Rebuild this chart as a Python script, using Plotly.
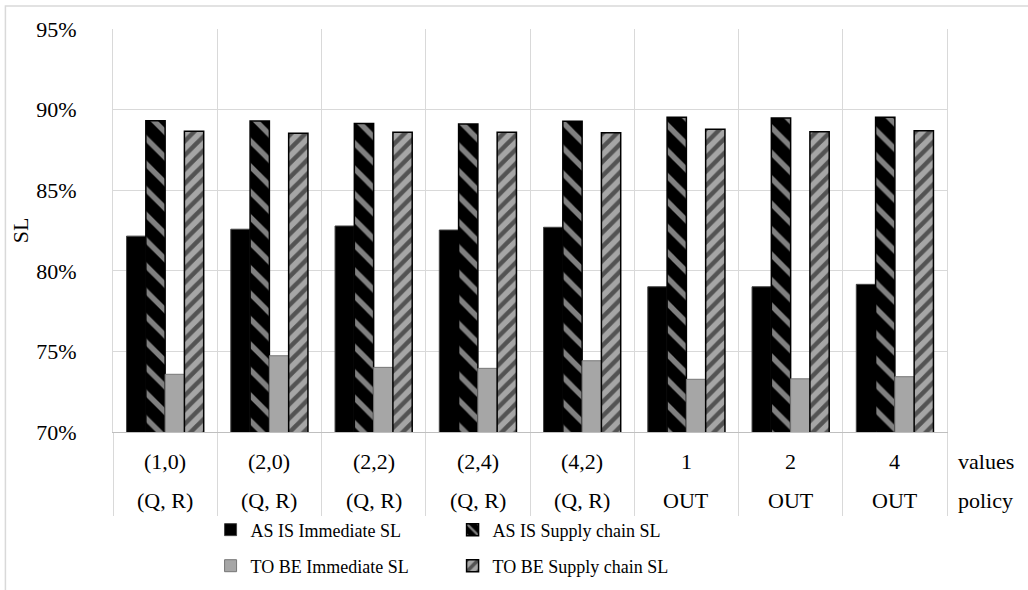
import plotly.graph_objects as go

categories = ["(1,0)", "(2,0)", "(2,2)", "(2,4)", "(4,2)", "1", "2", "4"]
policies = ["(Q, R)", "(Q, R)", "(Q, R)", "(Q, R)", "(Q, R)", "OUT", "OUT", "OUT"]
as_is_immediate = [0.8215, 0.8258, 0.8278, 0.8253, 0.8270, 0.7901, 0.7901, 0.7916]
as_is_supply = [0.8931, 0.8929, 0.8913, 0.8911, 0.8927, 0.8952, 0.8948, 0.8952]
to_be_immediate = [0.7358, 0.7473, 0.7401, 0.7395, 0.7442, 0.7327, 0.7330, 0.7343]
to_be_supply = [0.8865, 0.8853, 0.8859, 0.8859, 0.8857, 0.8878, 0.8863, 0.8869]
series_names = ["AS IS Immediate SL", "AS IS Supply chain SL",
                "TO BE Immediate SL", "TO BE Supply chain SL"]
row_labels = ["values", "policy"]

FONT = "Liberation Serif"
GRID = "#d9d9d9"
GREY = "#a6a6a6"
AX_SIZE = 22

fig = go.Figure()
fig.add_trace(go.Bar(
    x=categories, y=as_is_immediate, name=series_names[0],
    marker=dict(color="black", line=dict(color="#444444", width=1)),
    legend="legend"))
fig.add_trace(go.Bar(
    x=categories, y=as_is_supply, name=series_names[1],
    marker=dict(color="black", line=dict(color="black", width=1.5),
                pattern=dict(shape="\\", fgcolor="white", bgcolor="black",
                             size=18, solidity=0.3, fillmode="overlay")),
    legend="legend"))
fig.add_trace(go.Bar(
    x=categories, y=to_be_immediate, name=series_names[2],
    marker=dict(color=GREY, line=dict(color="#777777", width=1)),
    legend="legend2"))
fig.add_trace(go.Bar(
    x=categories, y=to_be_supply, name=series_names[3],
    marker=dict(color=GREY, line=dict(color="black", width=1.5),
                pattern=dict(shape="/", fgcolor="black", bgcolor=GREY,
                             size=10, solidity=0.45, fillmode="overlay")),
    legend="legend2"))

annotations = []
for i, (c, p) in enumerate(zip(categories, policies)):
    annotations.append(dict(x=i, y=-0.0744, xref="x", yref="paper", text=c,
                            showarrow=False, font=dict(family=FONT, size=AX_SIZE, color="black"),
                            xanchor="center", yanchor="middle"))
    annotations.append(dict(x=i, y=-0.169, xref="x", yref="paper", text=p,
                            showarrow=False, font=dict(family=FONT, size=AX_SIZE, color="black"),
                            xanchor="center", yanchor="middle"))
annotations.append(dict(x=1.011, y=-0.0744, xref="paper", yref="paper", text=row_labels[0],
                        showarrow=False, font=dict(family=FONT, size=AX_SIZE, color="black"),
                        xanchor="left", yanchor="middle"))
annotations.append(dict(x=1.011, y=-0.169, xref="paper", yref="paper", text=row_labels[1],
                        showarrow=False, font=dict(family=FONT, size=AX_SIZE, color="black"),
                        xanchor="left", yanchor="middle"))

legend_common = dict(orientation="h", font=dict(family=FONT, size=18, color="black"),
                     xanchor="left", yanchor="middle", entrywidth=197,
                     itemwidth=30, bgcolor="rgba(0,0,0,0)", traceorder="normal")

fig.update_layout(
    width=1028, height=590,
    margin=dict(l=113, r=81, t=29, b=158, autoexpand=False),
    paper_bgcolor="white", plot_bgcolor="white",
    barmode="group", bargap=0.26, bargroupgap=0,
    font=dict(family=FONT, size=AX_SIZE, color="black"),
    showlegend=True,
    legend=dict(x=0.117, y=-0.243, **legend_common),
    legend2=dict(x=0.117, y=-0.3325, **legend_common),
    annotations=annotations,
    xaxis=dict(type="category", showticklabels=False, tickson="boundaries",
               ticks="outside", ticklen=83, tickcolor=GRID, tickwidth=1,
               showgrid=True, gridcolor=GRID, gridwidth=1,
               showline=True, linecolor="#bfbfbf", linewidth=1),
    yaxis=dict(range=[0.70, 0.95], dtick=0.05, tick0=0.70, tickformat=".0%",
               showgrid=True, gridcolor=GRID, gridwidth=1,
               showline=True, mirror=True, linecolor=GRID, linewidth=1,
               ticks="", ticklabelstandoff=31, zeroline=False,
               tickfont=dict(family=FONT, size=AX_SIZE, color="black"),
               title=dict(text="SL", font=dict(family=FONT, size=AX_SIZE, color="black"),
                          standoff=1)),
    shapes=[dict(type="rect", xref="paper", yref="paper",
                 x0=-0.129, x1=1.2, y0=-0.5, y1=1.057,
                 line=dict(color=GRID, width=1.5), fillcolor="rgba(0,0,0,0)",
                 layer="below")],
)

fig.write_html("out.html")
